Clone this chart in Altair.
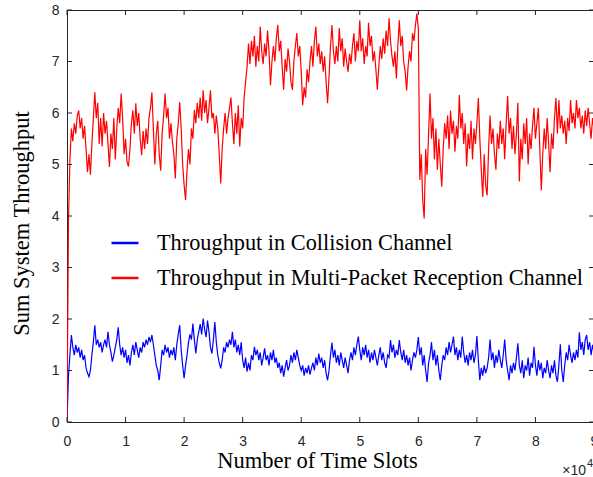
import altair as alt
import pandas as pd

# Sampling step along the x axis (units of 10^4 time slots)
STEP = 0.025

series_names = ["Throughput in Collision Channel",
                "Throughput in Multi-Packet Reception Channel"]
series_colors = ["#0000ff", "#ff0000"]

collision = [
    0, 0.9, 1.3, 1.69, 1.45, 1.3, 1.5, 1.35, 1.45, 1.25, 1.4, 1.2, 1.3, 1.05, 0.95, 0.88, 1.0, 1.3, 1.55, 1.88,
    1.5, 1.6, 1.45, 1.55, 1.35, 1.5, 1.6, 1.45, 1.75, 1.5, 1.35, 1.17, 1.3, 1.45, 1.6, 1.84, 1.5, 1.3, 1.45, 1.25,
    1.4, 1.15, 1.3, 1.1, 1.35, 1.5, 1.3, 1.55, 1.4, 1.25, 1.45, 1.35, 1.55, 1.45, 1.6, 1.5, 1.65, 1.55, 1.69, 1.5,
    1.3, 1.1, 1.0, 0.81, 1.1, 1.4, 1.3, 1.5, 1.35, 1.45, 1.25, 1.4, 1.3, 1.45, 1.2, 1.5, 1.7, 1.88, 1.4, 1.1,
    0.85, 1.1, 1.3, 1.55, 1.7, 1.6, 1.91, 1.6, 1.33, 1.6, 1.75, 1.9, 1.7, 2.01, 1.8, 1.65, 1.97, 1.75, 1.45, 1.33,
    1.6, 1.94, 1.55, 1.3, 1.15, 1.04, 1.2, 1.45, 1.35, 1.55, 1.45, 1.6, 1.5, 1.75, 1.45, 1.6, 1.35, 1.5, 1.3, 1.55,
    1.2, 1.05, 1.25, 0.98, 1.15, 1.0, 1.3, 1.2, 1.46, 1.3, 1.4, 1.2, 1.35, 1.1, 1.25, 1.43, 1.2, 1.3, 1.1, 1.35,
    1.2, 1.4, 1.15, 1.25, 1.05, 1.15, 0.95, 1.1, 0.88, 1.05, 1.2, 1.0, 1.1, 1.3, 1.15, 1.35, 1.2, 1.4, 1.25, 1.1,
    1.0, 1.1, 0.9, 1.05, 0.95, 1.1, 0.92, 1.05, 1.15, 1.0, 1.25, 1.1, 1.33, 1.15, 1.25, 1.05, 1.2, 0.95, 0.81, 1.0,
    1.3, 1.54, 1.25, 1.4, 1.15, 1.3, 1.1, 1.35, 1.2, 1.05, 1.25, 1.1, 0.95, 1.2, 1.35, 1.2, 1.45, 1.3, 1.5, 1.66,
    1.4, 1.2, 1.45, 1.3, 1.5, 1.25, 1.4, 1.15, 1.35, 1.2, 1.4, 1.25, 1.1, 1.3, 1.45, 1.2, 1.35, 1.15, 1.05, 1.3,
    1.25, 1.59, 1.35, 1.5, 1.25, 1.4, 1.3, 1.59, 1.35, 1.2, 1.4, 1.15, 1.3, 1.1, 1.25, 1.0, 1.2, 1.35, 1.25, 1.4,
    1.65, 1.3, 1.45, 1.1, 1.3, 1.0, 0.78, 1.15, 1.3, 1.55, 1.2, 1.4, 1.1, 1.3, 1.0, 0.81, 1.1, 1.3, 1.2, 1.45,
    1.3, 1.55, 1.35, 1.5, 1.66, 1.3, 1.45, 1.2, 1.4, 1.25, 1.66, 1.35, 1.15, 1.3, 1.1, 1.35, 1.2, 1.4, 1.15, 1.3,
    1.67, 1.2, 0.81, 1.05, 0.9, 1.1, 0.95, 1.05, 1.25, 1.6, 1.2, 1.35, 1.05, 1.3, 1.15, 1.4, 1.2, 1.05, 1.3, 1.6,
    1.2, 1.0, 0.81, 1.1, 0.95, 1.15, 1.0, 1.25, 1.53, 1.1, 0.95, 1.2, 0.85, 1.1, 1.0, 1.25, 0.9, 1.15, 1.05, 1.46,
    1.1, 0.9, 1.2, 1.0, 1.15, 0.85, 1.05, 0.95, 1.2, 1.0, 0.85, 1.1, 0.95, 1.2, 0.9, 0.78, 1.1, 1.51, 1.0, 0.78,
    1.1, 1.35, 1.2, 1.5, 1.3, 1.15, 1.35, 1.2, 1.4, 1.25, 1.74, 1.4, 1.55, 1.3, 1.6, 1.69, 1.4, 1.55, 1.3, 1.5, 1.35,
]

mpr = [
    0, 3.9, 5.1, 5.7, 5.45, 5.8, 5.6, 5.95, 6.05, 5.7, 5.9, 5.5, 5.75, 5.3, 4.85, 5.2, 4.8, 5.4, 5.9, 6.4,
    5.9, 6.2, 5.4, 5.9, 5.35, 6.0, 5.6, 5.85, 5.4, 4.95, 5.6, 5.3, 5.9, 5.1, 5.7, 6.1, 5.8, 6.38, 5.9, 5.2,
    5.5, 5.05, 4.96, 5.3, 5.8, 6.05, 5.6, 6.19, 5.75, 6.0, 5.5, 5.18, 5.65, 5.3, 5.7, 5.4, 5.9, 6.1, 6.4, 5.7,
    5.0, 5.6, 5.85, 5.2, 4.88, 5.6, 5.95, 6.38, 5.9, 6.1, 5.5, 5.8, 5.45, 5.2, 4.73, 5.5, 5.8, 6.21, 5.7, 5.0,
    4.6, 4.31, 4.9, 5.3, 5.0, 5.7, 5.5, 6.06, 5.8, 6.2, 5.9, 6.3, 5.85, 6.44, 6.0, 6.25, 5.8, 6.1, 6.44, 5.9,
    6.0, 5.6, 5.95, 5.7, 5.2, 4.63, 5.3, 5.7, 6.0, 5.6, 5.9, 6.1, 6.3, 5.8, 5.4, 6.0, 5.6, 6.15, 5.35, 5.9,
    5.7, 6.3, 6.6, 6.9, 7.35, 6.95, 7.4, 7.1, 7.5, 6.9, 7.3, 7.0, 7.68, 7.2, 6.95, 7.35, 7.1, 7.6, 7.2, 6.54,
    7.0, 7.3, 7.0, 7.45, 7.71, 7.2, 7.4, 6.9, 6.45, 7.05, 6.8, 7.25, 7.0, 6.6, 6.45, 7.0, 7.3, 7.55, 7.1, 7.3,
    6.8, 6.15, 6.5, 6.3, 6.85, 6.6, 7.0, 7.3, 6.9, 7.4, 7.68, 7.1, 7.35, 6.95, 7.2, 6.8, 7.1, 6.6, 6.19, 6.7,
    7.3, 7.71, 7.2, 6.95, 7.3, 7.0, 7.65, 7.2, 7.45, 6.9, 7.25, 7.0, 6.8, 7.15, 6.95, 7.3, 7.55, 7.0, 7.4, 7.2,
    7.8, 7.2, 7.45, 6.95, 7.3, 7.1, 7.75, 7.3, 7.5, 7.0, 7.2, 6.85, 6.45, 6.9, 7.3, 7.05, 7.45, 7.15, 7.6, 7.3,
    7.84, 7.4, 7.1, 6.9, 7.2, 6.67, 7.3, 7.8, 7.3, 7.5, 7.0, 6.8, 6.44, 6.9, 7.2, 7.0, 7.55, 7.4, 7.7, 7.93,
    7.65, 4.7, 5.2, 4.3, 3.95, 5.3, 4.8, 5.6, 6.38, 5.5, 5.9, 5.1, 5.7, 4.9, 5.5, 5.0, 4.57, 5.3, 5.8, 5.5,
    5.95, 5.3, 6.05, 5.6, 5.85, 5.25, 5.75, 5.5, 6.35, 5.7, 6.0, 5.4, 5.8, 4.96, 5.6, 5.3, 5.85, 5.1, 5.7, 5.4,
    5.8, 6.29, 5.5, 4.9, 4.37, 5.2, 4.6, 4.4, 5.3, 5.95, 5.4, 5.7, 5.2, 4.9, 5.6, 5.3, 5.85, 5.4, 5.7, 5.1,
    5.8, 6.33, 5.6, 5.9, 5.3, 5.75, 5.2, 5.6, 6.2, 4.67, 5.5, 5.1, 5.8, 5.4, 5.9, 5.0, 5.6, 5.3, 5.75, 6.1,
    5.5, 5.8, 6.1, 5.3, 4.5, 5.2, 5.7, 5.3, 5.9, 5.4, 4.85, 5.6, 5.3, 5.9, 6.29, 5.6, 6.25, 5.7, 5.95, 5.6,
    5.85, 5.4, 5.9, 5.65, 6.25, 5.8, 6.0, 5.7, 6.25, 5.9, 6.1, 5.7, 5.95, 5.6, 6.05, 5.75, 6.1, 5.8, 5.5, 5.9, 5.7,
]

x_ticks = [0, 1, 2, 3, 4, 5, 6, 7, 8, 9]
y_ticks = [0, 1, 2, 3, 4, 5, 6, 7, 8]
x_title = "Number of Time Slots"
y_title = "Sum System Throughput"
exp_base = ["\u00d710"]
exp_power = ["4"]

W, H = 527, 412
AXIS_COLOR = "#262626"
SERIF = "Liberation Serif"
SANS = "Liberation Sans"

rows = []
for name, vals in zip(series_names, [collision, mpr]):
    for i, v in enumerate(vals):
        rows.append({"slot": round(i * STEP, 4), "tp": v, "series": name})
df = pd.DataFrame(rows)

xs = alt.Scale(domain=[0, 9], nice=False, zero=False)
ys = alt.Scale(domain=[0, 8], nice=False, zero=False)

x_axis = alt.Axis(
    values=x_ticks, format="d", ticks=False, domain=False, grid=False,
    labelFont=SANS, labelFontSize=14, labelColor=AXIS_COLOR,
    labelPadding=12, labelFlush=False, labelOverlap=False,
    title=x_title, titleFont=SERIF, titleFontSize=22.5,
    titleFontWeight="normal", titleColor="black",
    titleX=250, titleY=45, titleBaseline="alphabetic", titleAlign="center")
y_axis = alt.Axis(
    values=y_ticks, format="d", ticks=False, domain=False, grid=False,
    labelFont=SANS, labelFontSize=14, labelColor=AXIS_COLOR,
    labelPadding=8, labelOverlap=False, labelFlush=False,
    title=y_title, titleFont=SERIF, titleFontSize=22.5,
    titleFontWeight="normal", titleColor="black",
    titleX=-39, titleY=213, titleAngle=270, titleBaseline="alphabetic",
    titleAlign="center")

lines = alt.Chart(df).mark_line(strokeWidth=1.2, clip=True).encode(
    x=alt.X("slot:Q", scale=xs, axis=x_axis),
    y=alt.Y("tp:Q", scale=ys, axis=y_axis),
    color=alt.Color("series:N",
                    scale=alt.Scale(domain=series_names, range=series_colors),
                    legend=alt.Legend(
                        orient="none", legendX=43, legendY=218, title=None,
                        symbolType="stroke", symbolSize=729, symbolStrokeWidth=2.5,
                        labelFont=SERIF, labelFontSize=22.3,
                        labelColor="black", labelOffset=17, rowPadding=8,
                        labelLimit=1000, padding=0)),
)

xt = pd.DataFrame({"slot": x_ticks})
yt = pd.DataFrame({"tp": y_ticks})

top_ticks = alt.Chart(xt).mark_rule(color=AXIS_COLOR).encode(
    x=alt.X("slot:Q", scale=xs, axis=x_axis), y=alt.value(0), y2=alt.value(5))
bottom_ticks = alt.Chart(xt).mark_rule(color=AXIS_COLOR).encode(
    x=alt.X("slot:Q", scale=xs, axis=x_axis), y=alt.value(H - 5), y2=alt.value(H))
left_ticks = alt.Chart(yt).mark_rule(color=AXIS_COLOR).encode(
    y=alt.Y("tp:Q", scale=ys, axis=y_axis), x=alt.value(0), x2=alt.value(5))
right_ticks = alt.Chart(yt).mark_rule(color=AXIS_COLOR).encode(
    y=alt.Y("tp:Q", scale=ys, axis=y_axis), x=alt.value(W - 5), x2=alt.value(W))

exp_text = alt.Chart(pd.DataFrame({"s": exp_base})).mark_text(
    font=SANS, fontSize=14, color=AXIS_COLOR, align="right",
    baseline="alphabetic").encode(
    text="s:N", x=alt.value(W - 8), y=alt.value(H + 53))
exp_pow = alt.Chart(pd.DataFrame({"s": exp_power})).mark_text(
    font=SANS, fontSize=11, color=AXIS_COLOR, align="left",
    baseline="alphabetic").encode(
    text="s:N", x=alt.value(W - 7), y=alt.value(H + 45))

chart = alt.layer(
    lines, top_ticks, bottom_ticks, left_ticks, right_ticks, exp_text, exp_pow
).properties(
    width=W, height=H,
    autosize=alt.AutoSizeParams(type="none"),
    padding={"left": 67, "top": 10, "right": -1, "bottom": 55},
    background="white",
).configure_view(
    stroke=AXIS_COLOR, strokeWidth=1
)

chart.save("out.html", embed_options={"renderer": "svg", "actions": False})
